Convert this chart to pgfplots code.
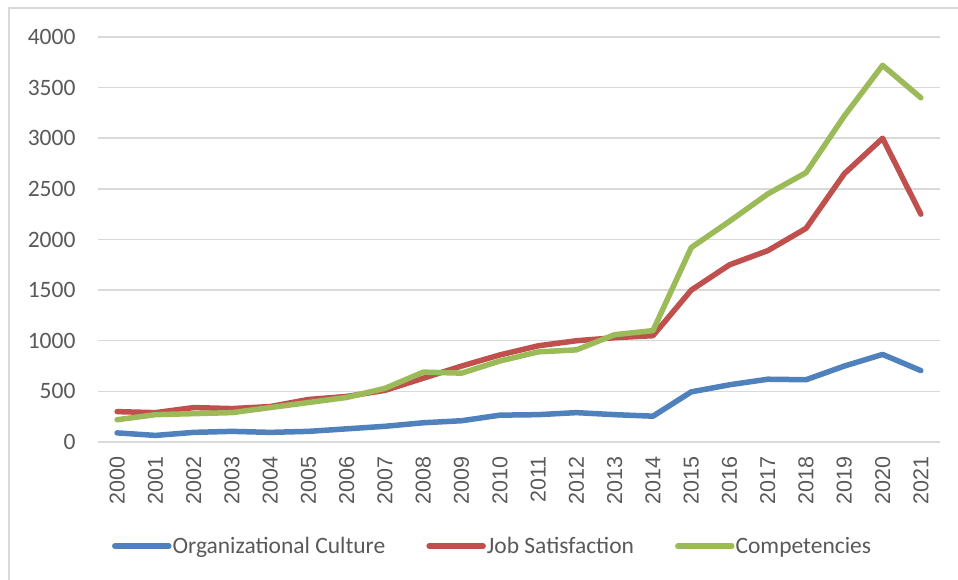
\documentclass[border=0pt]{standalone}
\usepackage{pgfplots}
\pgfplotsset{compat=1.18}
\usepackage{fontspec}
\setmainfont{Carlito}
\newfontfamily\xfont{Liberation Sans}
\definecolor{cblue}{HTML}{4F81BD}
\definecolor{cred}{HTML}{C0504D}
\definecolor{cgreen}{HTML}{9BBB59}
\definecolor{ctext}{HTML}{595959}
\definecolor{cgrid}{HTML}{D9D9D9}
\begin{document}
\begin{tikzpicture}[x=1pt,y=1pt]
\useasboundingbox (0,0) rectangle (958,580);
\draw[cgrid, line width=1.5pt] (9,0) -- (9,572) -- (958,572);
\begin{axis}[
  at={(98pt,138pt)}, anchor=south west,
  scale only axis, width=842pt, height=405pt,
  xmin=-0.5, xmax=21.5, ymin=0, ymax=4000,
  axis line style={draw=none},
  axis x line*=bottom,
  ytick={0,500,...,4000},
  xtick={0,...,21},
  xticklabels={2000,2001,2002,2003,2004,2005,2006,2007,2008,2009,2010,2011,2012,2013,2014,2015,2016,2017,2018,2019,2020,2021},
  major tick length=0pt,
  ymajorgrids, grid style={cgrid, line width=1.5pt},
  tick label style={text=ctext},
  yticklabel style={font=\fontsize{23.5}{25}\selectfont, xshift=-19pt},
  /pgf/number format/assume math mode=true,
  /pgf/number format/1000 sep={},
  xticklabel style={font=\xfont\fontsize{21.5}{23}\selectfont, rotate=90, anchor=east, inner sep=0pt, xshift=-14pt, yshift=0pt},
  legend columns=3,
  legend style={at={(0.468,-0.257)}, anchor=center, draw=none, fill=none,
    font=\fontsize{23.5}{25}\selectfont, text=ctext,
    /tikz/every even column/.append style={column sep=40pt},
    inner sep=0pt, nodes={inner sep=1pt}},
  legend image code/.code={\draw[#1, line cap=round] (0pt,0pt) -- (54pt,0pt);},
  every axis plot/.append style={line width=5.5pt, line join=round, line cap=round, mark=none},
  clip=false,
]
\draw[cgrid, line width=1.5pt] (axis cs:-0.5,0) -- (axis cs:21.5,0);
\addplot[cblue] coordinates {(0,90)(1,65)(2,95)(3,105)(4,95)(5,105)(6,130)(7,155)(8,190)(9,210)(10,265)(11,270)(12,290)(13,270)(14,255)(15,495)(16,565)(17,620)(18,615)(19,750)(20,865)(21,705)};
\addlegendentry{Organizational Culture}
\addplot[cred] coordinates {(0,300)(1,290)(2,340)(3,330)(4,350)(5,420)(6,450)(7,510)(8,630)(9,750)(10,860)(11,950)(12,1000)(13,1030)(14,1050)(15,1500)(16,1750)(17,1890)(18,2110)(19,2650)(20,3000)(21,2250)};
\addlegendentry{Job Satisfaction}
\addplot[cgreen] coordinates {(0,220)(1,270)(2,280)(3,290)(4,340)(5,390)(6,440)(7,530)(8,690)(9,680)(10,800)(11,890)(12,910)(13,1060)(14,1100)(15,1920)(16,2180)(17,2450)(18,2660)(19,3220)(20,3720)(21,3400)};
\addlegendentry{Competencies}
\end{axis}
\end{tikzpicture}
\end{document}
